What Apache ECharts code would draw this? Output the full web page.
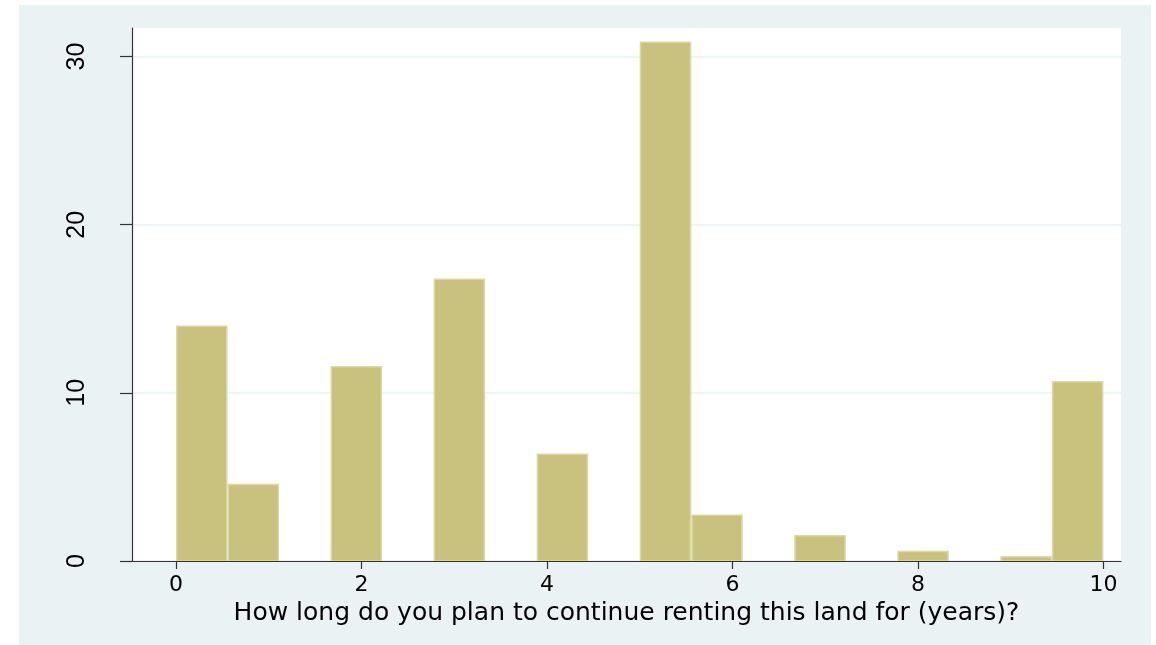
<!DOCTYPE html>
<html>
<head>
<meta charset="utf-8">
<script src="https://cdn.jsdelivr.net/npm/echarts@6/dist/echarts.min.js"></script>
<style>
html,body{margin:0;padding:0;background:#fff;}
#chart{width:1156px;height:645px;}
</style>
</head>
<body>
<div id="chart"></div>
<script>
// Histogram bins (years): left edge of each non-empty bin, bin width = 10/18
const binWidth = 10 / 18;
const binLeft = [0, 0.5556, 1.6667, 2.7778, 3.8889, 5.0, 5.5556, 6.6667, 7.7778, 8.8889, 9.4444];
const percentValues = [14.0, 4.6, 11.6, 16.8, 6.4, 30.9, 2.76, 1.55, 0.61, 0.3, 10.7];
const xTicks = [0, 2, 4, 6, 8, 10];
const yTicks = [0, 10, 20, 30];
const xTitle = 'How long do you plan to continue renting this land for (years)?';

const data = binLeft.map((l, i) => [l, l + binWidth, percentValues[i]]);

const chart = echarts.init(document.getElementById('chart'), null, {renderer: 'canvas'});
chart.setOption({
  backgroundColor: '#ffffff',
  animation: false,
  graphic: [{
    type: 'rect', left: 19, top: 5, z: -10, silent: true,
    shape: {width: 1132, height: 640},
    style: {fill: '#EAF2F3'}
  }],
  grid: {
    left: 132, right: 35, top: 28, bottom: 84,
    show: true, backgroundColor: '#ffffff', borderWidth: 0
  },
  xAxis: {
    type: 'value', min: -0.475, max: 10.19,
    axisLine: {show: true, onZero: false, lineStyle: {color: '#333333', width: 1.2}},
    axisTick: {show: true, length: 8, customValues: xTicks, lineStyle: {color: '#333333', width: 1.2}},
    axisLabel: {customValues: xTicks, color: '#000', fontFamily: 'DejaVu Sans', fontSize: 22, margin: 13},
    splitLine: {show: false},
    name: xTitle, nameLocation: 'middle', nameGap: 35,
    nameTextStyle: {color: '#000', fontFamily: 'DejaVu Sans', fontSize: 25}
  },
  yAxis: {
    type: 'value', min: 0, max: 31.7, interval: 10,
    axisLine: {show: true, onZero: false, lineStyle: {color: '#333333', width: 1.2}},
    axisTick: {show: true, length: 12, customValues: yTicks, lineStyle: {color: '#333333', width: 1.2}},
    axisLabel: {
      customValues: yTicks,
      rotate: 90, color: '#000', fontFamily: 'Liberation Sans', fontSize: 25, margin: 42
    },
    splitLine: {show: true, lineStyle: {color: '#EAF2F3', width: 1.5}}
  },
  series: [{
    type: 'custom',
    clip: true,
    data: data,
    encode: {x: [0, 1], y: 2},
    renderItem: function (params, api) {
      const x0 = api.value(0), x1 = api.value(1), v = api.value(2);
      const pTop = api.coord([x0, v]);
      const pBot = api.coord([x1, 0]);
      return {
        type: 'rect',
        shape: {x: pTop[0] + 0.75, y: pTop[1] + 0.75, width: pBot[0] - pTop[0] - 1.5, height: pBot[1] - pTop[1] - 0.75},
        style: {fill: '#C9C17E', stroke: '#DCD8A4', lineWidth: 1.5}
      };
    }
  }]
});
</script>
</body>
</html>
